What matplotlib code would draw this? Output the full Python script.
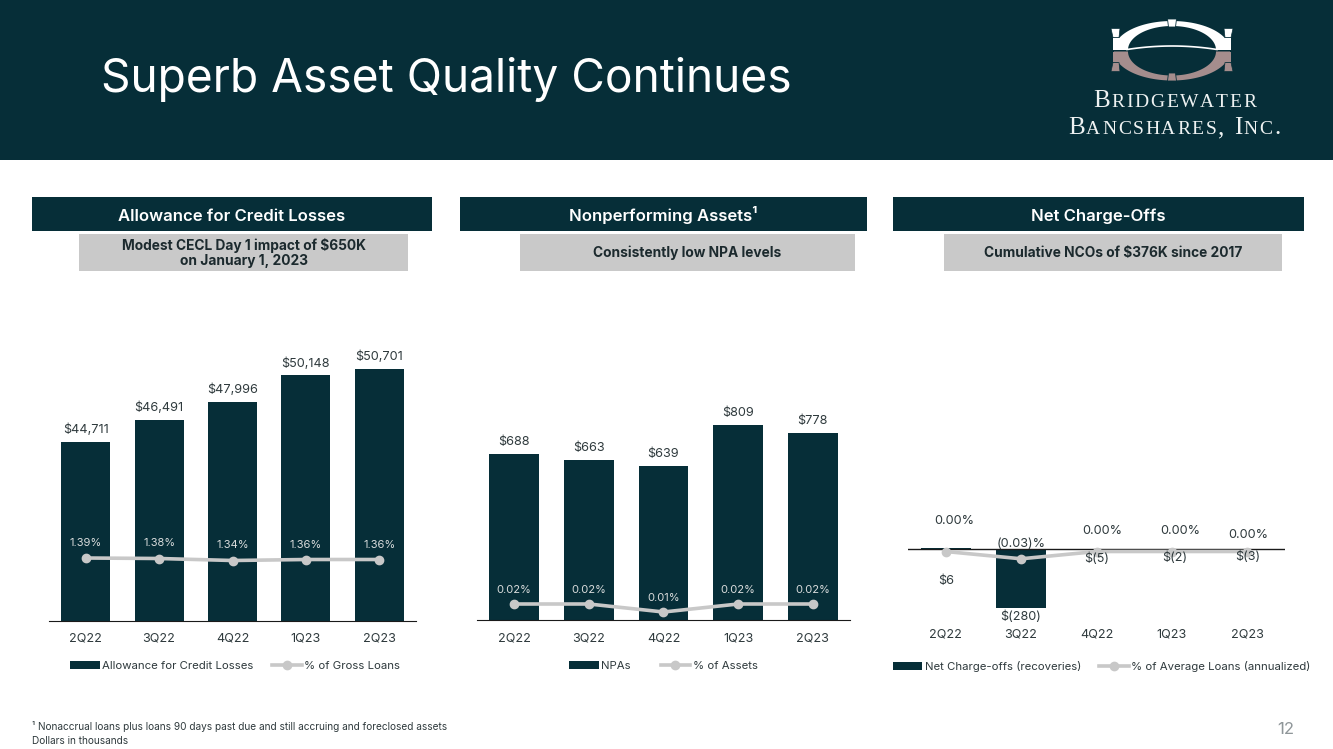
import numpy as np
import matplotlib
matplotlib.use("Agg")
import matplotlib.pyplot as plt
from matplotlib.patches import Rectangle, Polygon

plt.rcParams['font.family'] = ['Inter', 'DejaVu Sans']

W, H = 1333, 749
DARK = '#062e38'
GREY = '#c9c9c9'
LINE = '#c8c8c8'
TXT = '#2f3a3d'

quarters = ['2Q22', '3Q22', '4Q22', '1Q23', '2Q23']

allowance = [44711, 46491, 47996, 50148, 50701]
allowance_labels = ['$44,711', '$46,491', '$47,996', '$50,148', '$50,701']
allowance_pct = [1.39, 1.38, 1.34, 1.36, 1.36]
allowance_pct_labels = ['1.39%', '1.38%', '1.34%', '1.36%', '1.36%']

npa = [688, 663, 639, 809, 778]
npa_labels = ['$688', '$663', '$639', '$809', '$778']
npa_pct = [0.02, 0.02, 0.01, 0.02, 0.02]
npa_pct_labels = ['0.02%', '0.02%', '0.01%', '0.02%', '0.02%']

nco = [6, -280, -5, -2, -3]
nco_labels = ['$6', '$(280)', '$(5)', '$(2)', '$(3)']
nco_pct = [0.00, -0.03, 0.00, 0.00, 0.00]
nco_pct_labels = ['0.00%', '(0.03)%', '0.00%', '0.00%', '0.00%']

fig = plt.figure(figsize=(W / 100, H / 100), dpi=100, facecolor='white')

# slide furniture is drawn in pixel coordinates
bg = fig.add_axes([0, 0, 1, 1])
bg.set_xlim(0, W)
bg.set_ylim(H, 0)
bg.axis('off')

bg.add_patch(Rectangle((0, 0), W, 160, color=DARK, lw=0))
bg.text(101, 80, 'Superb Asset Quality Continues', color='white', fontsize=33.2, va='center')

heads = [(32, 432, 'Allowance for Credit Losses'),
         (460, 867, 'Nonperforming Assets¹'),
         (893, 1304, 'Net Charge-Offs')]
for x0, x1, s in heads:
    bg.add_patch(Rectangle((x0, 197), x1 - x0, 34, color=DARK, lw=0))
    bg.text((x0 + x1) / 2, 221, s, color='white', fontsize=12, fontweight='semibold', ha='center', va='baseline')

notes = [(79, 408, 'Modest CECL Day 1 impact of $650K\non January 1, 2023'),
         (520, 855, 'Consistently low NPA levels'),
         (944, 1282, 'Cumulative NCOs of $376K since 2017')]
for x0, x1, s in notes:
    bg.add_patch(Rectangle((x0, 234), x1 - x0, 37, color=GREY, lw=0))
    bg.text((x0 + x1) / 2, 253, s, color='#1c2a2e', fontsize=9.9, fontweight='bold', ha='center', va='center', linespacing=1.15)

bg.text(32, 726, '¹ Nonaccrual loans plus loans 90 days past due and still accruing and foreclosed assets',
        color=TXT, fontsize=7.25, va='center')
bg.text(32, 740.5, 'Dollars in thousands', color=TXT, fontsize=7.25, va='center')
bg.text(1286, 730, '12', color='#8f9699', fontsize=12, ha='center', va='center')

# logo
cx, cy = 1172, 50
t = np.linspace(0, np.pi, 80)
for sign, col in [(-1, 'white'), (1, '#a58d8d')]:
    gap = 1.5 if sign > 0 else 0
    outer = np.c_[cx + 58 * np.cos(t), cy + gap + sign * 29 * np.sin(t)]
    inner = np.c_[cx + 44 * np.cos(t[::-1]), cy + gap + sign * 24 * np.sin(t[::-1])]
    bg.add_patch(Polygon(np.r_[outer, inner], color=col, lw=0))
    yk = cy + sign * 27
    bg.add_patch(Polygon([(cx - 4.5, yk + 4 * sign), (cx + 4.5, yk + 4 * sign), (cx + 3.5, yk - 4 * sign), (cx - 3.5, yk - 4 * sign)],
                         fc=col, ec=DARK, lw=0.6))
    for side in (-1, 1):
        # block under the arch end, then the flared capital
        xs = [cx + side * 59, cx + side * 46, cx + side * 46, cx + side * 59]
        ys = [cy + gap, cy + gap, cy + sign * 12, cy + sign * 12]
        bg.add_patch(Polygon(np.c_[xs, ys], color=col, lw=0))
        xs = [cx + side * 59, cx + side * 53, cx + side * 52, cx + side * 61]
        ys = [cy + sign * 12.5, cy + sign * 12.5, cy + sign * 21.5, cy + sign * 21.5]
        bg.add_patch(Polygon(np.c_[xs, ys], fc=col, ec=DARK, lw=0.5))
tt = np.linspace(-1, 1, 40)
bg.plot(cx + 45 * tt, 46 + 3.5 * tt ** 2, color='white', lw=1.2)


def small_caps(s, xmid, y):
    # big first letters, smaller capitals for the rest
    r = fig.canvas.get_renderer()
    parts = []
    for ch in s:
        big = not ch.islower()
        txt = bg.text(0, y, ch.upper(), color='#eef2f2', family='Liberation Serif',
                      fontsize=18 if big else 14, va='baseline')
        parts.append((txt, txt.get_window_extent(r).width if ch != ' ' else 6))
    gap = 1.7
    total = sum(p[1] + gap for p in parts)
    x = xmid - total / 2
    for txt, w in parts:
        txt.set_x(x)
        x += w + gap


small_caps('Bridgewater', 1175.5, 107)
small_caps('Bancshares, Inc.', 1175, 134)


def px_axes(x0, x1, top, bottom):
    return fig.add_axes([x0 / W, 1 - bottom / H, (x1 - x0) / W, (bottom - top) / H])


def panel(rect, ylim, pct_lim, vals, labels, pct, pct_labels, names, legend_box,
          bar_off, pct_off, width, pad, colspace, zero_line=False):
    ax = px_axes(*rect)
    x = np.arange(len(quarters))
    base = ylim[0] if ylim[0] > 0 else 0
    bars = ax.bar(x, np.array(vals) - base, width=width, color=DARK, label=names[0], bottom=base)
    ax.set_xlim(-0.5, 4.5)
    ax.set_ylim(*ylim)
    ax.set_yticks([])
    ax.set_xticks(x, quarters)
    ax.tick_params(axis='x', length=0, labelsize=9.1, labelcolor=TXT, pad=pad)
    for side in ('top', 'left', 'right'):
        ax.spines[side].set_visible(False)
    if zero_line:
        ax.spines['bottom'].set_visible(False)
        ax.axhline(0, color='#1a1a1a', lw=1, zorder=3)
    else:
        ax.spines['bottom'].set_color('#1a1a1a')

    ax2 = ax.twinx()
    line, = ax2.plot(x, pct, color=LINE, lw=2.6, marker='o', ms=6, label=names[1])
    ax2.set_ylim(*pct_lim)
    ax2.axis('off')

    # labels go on the top axes so the line does not cover them
    for i in x:
        ax2.annotate(labels[i], (i, vals[i]), xycoords=ax.transData, xytext=bar_off[i],
                     textcoords='offset pixels', ha='center', va='center', fontsize=9.1, color=TXT)
        colour = '#d9dcdc' if not zero_line else TXT
        ax2.annotate(pct_labels[i], (i, pct[i]), xytext=pct_off[i], textcoords='offset pixels',
                     ha='center', va='center', fontsize=8 if not zero_line else 9.1, color=colour)

    fig.legend(handles=[bars, line], labels=names, loc='center', ncols=2, frameon=False,
               bbox_to_anchor=(legend_box[0] / W, 1 - legend_box[1] / H), fontsize=8.2,
               labelcolor=TXT, handlelength=2.6, handletextpad=0.2, columnspacing=colspace, borderpad=0)


panel((49, 416, 300, 621), (30000, 30000 + 321 / 0.01219), (0.13, 0.13 + 321 / 50),
      allowance, allowance_labels, allowance_pct, allowance_pct_labels,
      ['Allowance for Credit Losses', '% of Gross Loans'], (235, 666),
      [(0, 12)] * 5, [(0, 15)] * 5, 0.67, 8.5, 1.67)

panel((477, 850, 300, 620), (0, 320 / 0.241), (0, 0.4),
      npa, npa_labels, npa_pct, npa_pct_labels,
      ['NPAs', '% of Assets'], (663.5, 666),
      [(0, 12)] * 5, [(0, 14)] * 5, 0.67, 9, 2.6)

panel((908, 1285, 300, 622), (-73 / 0.2107, 249 / 0.2107), (-70.5 / 243, 251.5 / 243),
      nco, nco_labels, nco_pct, nco_pct_labels,
      ['Net Charge-offs (recoveries)', '% of Average Loans (annualized)'], (1101.5, 666),
      [(0, -33), (0, -9), (0, -9), (3, -8), (0, -7)],
      [(9, 30), (0, 15), (6, 21), (8, 21), (1, 17)], 0.66, 4.5, 1.6, zero_line=True)

fig.savefig('out.png', dpi=100)
